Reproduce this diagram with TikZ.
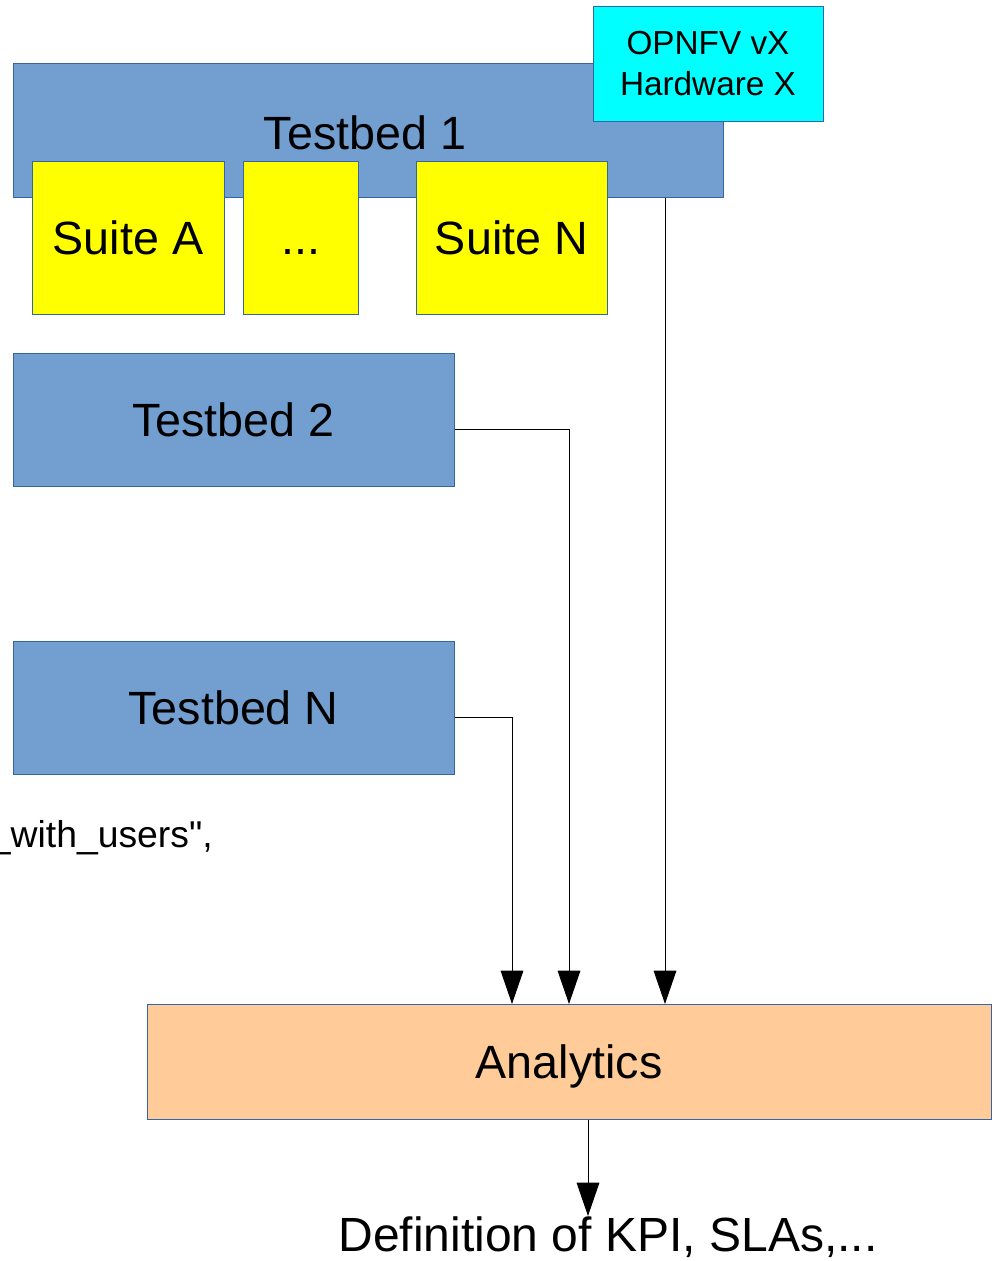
\documentclass[tikz,border=0pt]{standalone}
\usepackage{fontspec}
\setmainfont{Liberation Sans}
\usepackage{tikz}
\usetikzlibrary{arrows.meta}

\definecolor{bedblue}{HTML}{729FCF}
\definecolor{edgeblue}{HTML}{3465A4}
\definecolor{suiteyellow}{HTML}{FFFF00}
\definecolor{verscyan}{HTML}{00FFFF}
\definecolor{anapeach}{HTML}{FFCC99}

\begin{document}
\begin{tikzpicture}[x=0.75pt, y=-0.75pt,
		box/.style={rectangle, draw=edgeblue, line width=0.75pt, inner sep=0pt, text=black, font=\fontsize{35}{42}\selectfont},
		capbox/.style={box, text height=25pt, text depth=0pt},
		bed/.style={capbox, fill=bedblue, minimum height=100pt},
		suite/.style={capbox, fill=suiteyellow, minimum height=114.75pt},
		arr/.style={-{Triangle[width=17pt, length=25pt]}, line width=0.75pt, black}]
		
		\useasboundingbox (0,0) rectangle (996,1261);
		
		% Testbeds
		\node[bed, minimum width=532.5pt] (tb1) at (368,130.5) {};
		\node[font=\fontsize{35}{42}\selectfont] (tb1lbl) at (365,133) {Testbed 1};
		\node[bed, minimum width=330.75pt] (tb2) at (233.5,420) {Testbed 2};
		\node[bed, minimum width=330.75pt] (tbn) at (233.5,708) {Testbed N};
		
		% Suites on testbed 1
		\node[suite, minimum width=144pt] (sa) at (128,237.5) {Suite A};
		\node[suite, minimum width=86.25pt] (sdots) at (300.5,237.5) {...};
		\node[suite, minimum width=143.25pt] (sn) at (511.5,237.5) {Suite N};
		
		% Version tag
		\node[box, fill=verscyan, minimum width=172.5pt, minimum height=86.25pt, align=center, font=\fontsize{25}{31}\selectfont] (vers) at (708,63.5) {OPNFV vX\\Hardware X};
		
		% Clipped text on the left
		\node[anchor=east, inner sep=0pt, font=\fontsize{28}{32}\selectfont] (users) at (213,838) {\_with\_users{\addfontfeature{Ligatures=TeXOff}"},};
		
		% Analytics and result
		\node[capbox, fill=anapeach, minimum width=633pt, minimum height=86.25pt] (ana) at (569,1061.5) {Analytics};
		\node[inner sep=0pt, anchor=north, font=\fontsize{36}{42}\selectfont] (kpi) at (608,1216) {Definition of KPI, SLAs,...};
		
		% Connect
		\coordinate (in1) at (665,1004);
		\coordinate (in2) at (569,1004);
		\coordinate (inn) at (512,1004);
		\draw[arr] (tb1.south -| in1) -- (in1);
		\draw[arr] ([yshift=-6.75pt]tb2.east) -| (in2);
		\draw[arr] ([yshift=-6.75pt]tbn.east) -| (inn);
		\draw[arr] ([xshift=14.25pt]ana.south) -- ([xshift=-15pt]kpi.north);
		
	\end{tikzpicture}
\end{document}
